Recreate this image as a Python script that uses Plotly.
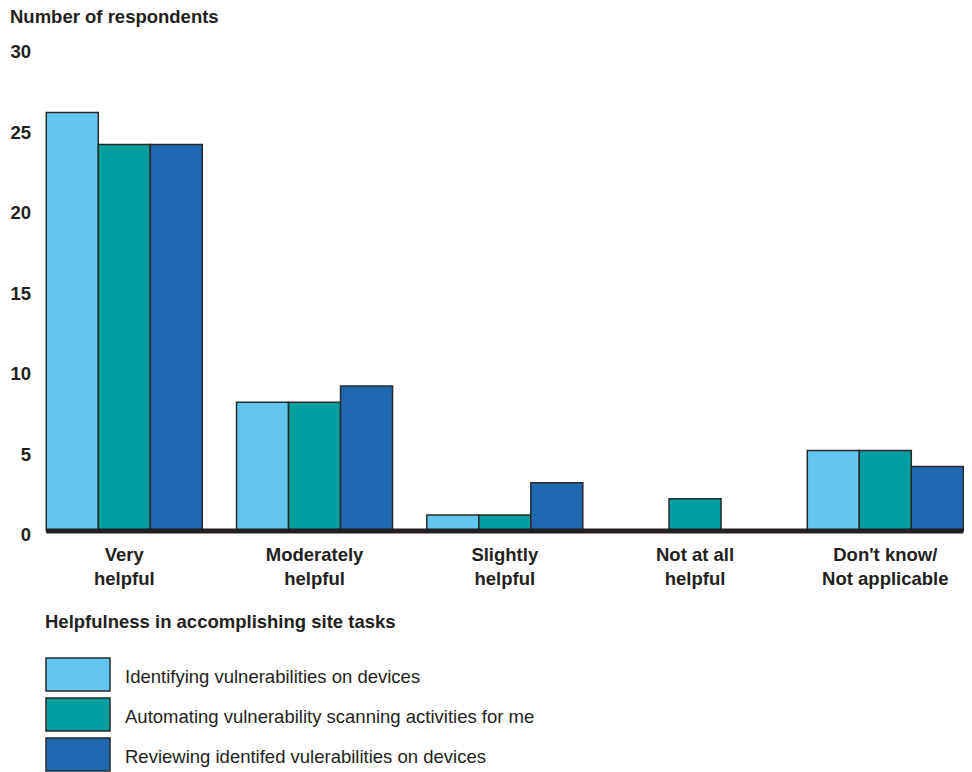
import plotly.graph_objects as go

# Survey responses: helpfulness of scanning tools by task
categories = ["Very<br>helpful", "Moderately<br>helpful", "Slightly<br>helpful",
              "Not at all<br>helpful", "Don't know/<br>Not applicable"]
series_names = ["Identifying vulnerabilities on devices",
                "Automating vulnerability scanning activities for me",
                "Reviewing identifed vulerabilities on devices"]
identifying = [26, 8, 1, 0, 5]
automating = [24, 8, 1, 2, 5]
reviewing = [24, 9, 3, 0, 4]
y_ticks = [0, 5, 10, 15, 20, 25, 30]

colors = ["#62c6ee", "#009ea0", "#1e69b2"]
ink = "#231f20"
font = "Liberation Sans, Arial, sans-serif"
fs = 18.5

W, H = 972, 772
TOP_PX, ZERO_PX = 48.0, 530.5          # rows of y=30 and y=0
PAD_PX = 4.0                           # room below zero for the heavy baseline
M_L, M_R = 34, 0
M_T = int(TOP_PX)
M_B = int(H - ZERO_PX - PAD_PX)
plot_h = H - M_T - M_B
plot_w = W - M_L - M_R
unit = (ZERO_PX - TOP_PX) / 30
y_lo = -PAD_PX / unit

x_idx = list(range(len(categories)))
bargap = 0.18
half = (1 - bargap) / 2

fig = go.Figure()
for name, vals, col in zip(series_names, [identifying, automating, reviewing], colors):
    fig.add_trace(go.Bar(
        x=x_idx, y=vals, name=name,
        marker=dict(color=col, line=dict(color="#2a2a2a", width=1.5)),
        showlegend=False,
    ))

# heavy baseline spanning the bar groups
fig.add_trace(go.Scatter(
    x=[x_idx[0] - half, x_idx[-1] + half], y=[0, 0], mode="lines",
    line=dict(color=ink, width=5),
    showlegend=False, hoverinfo="skip",
))

def py(pixel_y):
    # page pixel row -> paper fraction
    return (H - M_B - pixel_y) / plot_h

def px(pixel_x):
    return (pixel_x - M_L) / plot_w

shapes = []
annotations = [
    dict(text="<b>Number of respondents</b>", xref="paper", yref="paper",
         x=px(8), y=py(17), xanchor="left", yanchor="middle", showarrow=False,
         font=dict(family=font, size=fs, color=ink)),
    dict(text="<b>Helpfulness in accomplishing site tasks</b>", xref="paper", yref="paper",
         x=px(43), y=py(621), xanchor="left", yanchor="middle", showarrow=False,
         font=dict(family=font, size=fs, color=ink)),
]

# legend swatches and labels
box_tops = [658, 698, 738]
for name, col, top in zip(series_names, colors, box_tops):
    shapes.append(dict(type="rect", xref="paper", yref="paper",
                       x0=px(46), x1=px(110), y0=py(top), y1=py(top + 33),
                       fillcolor=col, line=dict(color="#2a2a2a", width=1.5)))
    annotations.append(dict(text=name, xref="paper", yref="paper",
                            x=px(123), y=py(top + 18), xanchor="left", yanchor="middle",
                            showarrow=False, font=dict(family=font, size=fs, color=ink)))

fig.update_layout(
    width=W, height=H,
    margin=dict(l=M_L, r=M_R, t=M_T, b=M_B),
    paper_bgcolor="white", plot_bgcolor="white",
    barmode="group", bargap=bargap, bargroupgap=0,
    shapes=shapes, annotations=annotations,
    xaxis=dict(
        range=[(M_L - 124.3) / 190.25, (W - M_R - 124.3) / 190.25],
        tickmode="array", tickvals=x_idx,
        ticktext=[f"<b>{c}</b>" for c in categories],
        showgrid=False, zeroline=False, showline=False, ticks="",
        tickfont=dict(family=font, size=fs, color=ink),
        ticklabelstandoff=6,
    ),
    yaxis=dict(
        range=[y_lo, 30], tickmode="array", tickvals=y_ticks,
        ticktext=[f"<b>{t}</b>" for t in y_ticks],
        showgrid=False, zeroline=False, showline=False, ticks="",
        tickfont=dict(family=font, size=fs, color=ink),
        ticklabelshift=4, ticklabelstandoff=2,
    ),
)

fig.write_html("out.html")
